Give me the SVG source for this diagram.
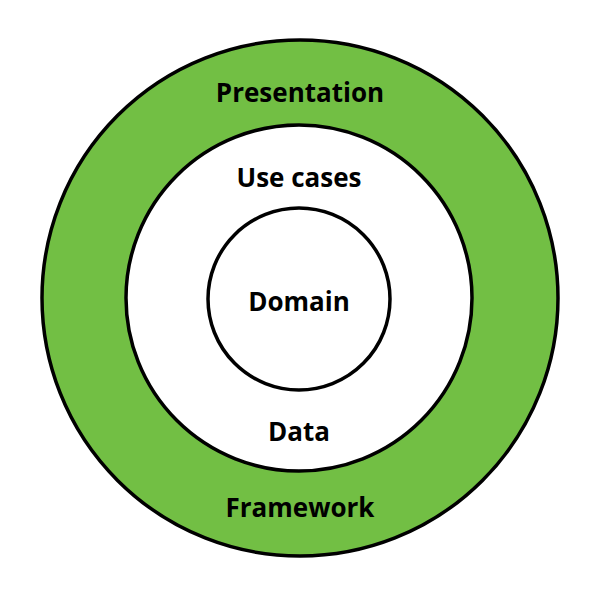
<svg xmlns="http://www.w3.org/2000/svg" width="600" height="589" viewBox="0 0 600 589">
<style>
.ring{stroke:#000;stroke-width:3.5}
.t{font-family:"Open Sans","Noto Sans",sans-serif;font-weight:bold;font-size:26px;fill:#000;text-anchor:middle}
</style>
<rect width="600" height="589" fill="#fff"/>
<g id="presentation">
<circle class="ring" cx="300" cy="298" r="258" fill="#72bf44"/>
<text class="t" x="300" y="102">Presentation</text>
<text class="t" x="300" y="517">Framework</text>
</g>
<g id="usecases">
<circle class="ring" cx="299" cy="298" r="173" fill="#fff"/>
<text class="t" x="299" y="187">Use cases</text>
<text class="t" x="299" y="441">Data</text>
</g>
<g id="domain">
<circle class="ring" cx="299" cy="299" r="91" fill="#fff"/>
<text class="t" x="299" y="311">Domain</text>
</g>
<g id="connectors"/>
</svg>
